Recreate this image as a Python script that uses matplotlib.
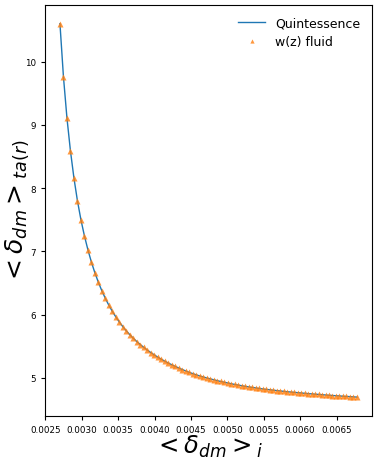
import numpy as np
import matplotlib
matplotlib.use("Agg")
import matplotlib.pyplot as plt


# -----------------------------
# DATA
# -----------------------------
delta_i = [
    0.002700, 0.002748, 0.002796, 0.002844, 0.002892, 0.002940, 0.002988, 0.003036,
    0.003084, 0.003132, 0.003180, 0.003228, 0.003276, 0.003324, 0.003372, 0.003420,
    0.003468, 0.003516, 0.003564, 0.003612, 0.003660, 0.003708, 0.003756, 0.003804,
    0.003852, 0.003900, 0.003948, 0.003996, 0.004044, 0.004092, 0.004140, 0.004188,
    0.004236, 0.004284, 0.004332, 0.004380, 0.004428, 0.004476, 0.004524, 0.004572,
    0.004620, 0.004668, 0.004716, 0.004764, 0.004812, 0.004860, 0.004908, 0.004956,
    0.005004, 0.005052, 0.005100, 0.005148, 0.005196, 0.005244, 0.005292, 0.005340,
    0.005388, 0.005436, 0.005484, 0.005532, 0.005580, 0.005628, 0.005676, 0.005724,
    0.005772, 0.005820, 0.005868, 0.005916, 0.005964, 0.006012, 0.006060, 0.006108,
    0.006156, 0.006204, 0.006252, 0.006300, 0.006348, 0.006396, 0.006444, 0.006492,
    0.006540, 0.006588, 0.006636, 0.006684, 0.006732, 0.006780,
]

delta_ta_quint = [
    10.600, 9.760, 9.110, 8.590, 8.160, 7.800, 7.500, 7.245,
    7.025, 6.830, 6.660, 6.510, 6.375, 6.255, 6.147, 6.050,
    5.962, 5.882, 5.809, 5.742, 5.681, 5.625, 5.573, 5.525,
    5.481, 5.439, 5.399, 5.362, 5.327, 5.294, 5.263, 5.234,
    5.206, 5.180, 5.155, 5.131, 5.108, 5.086, 5.066, 5.047,
    5.029, 5.013, 4.997, 4.983, 4.969, 4.955, 4.942, 4.930,
    4.918, 4.906, 4.895, 4.885, 4.875, 4.865, 4.856, 4.848,
    4.840, 4.832, 4.824, 4.817, 4.811, 4.804, 4.798, 4.792,
    4.786, 4.780, 4.775, 4.770, 4.765, 4.760, 4.755, 4.750,
    4.746, 4.741, 4.737, 4.733, 4.728, 4.724, 4.720, 4.716,
    4.713, 4.709, 4.705, 4.702, 4.698, 4.695,
]

# fluid model lies on top of the quintessence curve
delta_ta_fluid = list(delta_ta_quint)

xticks = [0.0025, 0.0030, 0.0035, 0.0040, 0.0045, 0.0050, 0.0055, 0.0060, 0.0065]
xtick_labels = ["0.0025", "0.0030", "0.0035", "0.0040", "0.0045",
                "0.0050", "0.0055", "0.0060", "0.0065"]
yticks = [5, 6, 7, 8, 9, 10]


# -----------------------------
# FIGURE
# -----------------------------
fig = plt.figure(figsize=(3.79, 4.60), dpi=100)
ax = fig.add_axes([0.119, 0.094, 0.862, 0.893])

ax.plot(delta_i, delta_ta_quint, color="C0", lw=1.0, label="Quintessence")
ax.plot(delta_i, delta_ta_fluid, "^", color="C1", ms=3.8, alpha=0.8,
        mec="none", label="w(z) fluid")

ax.set_xticks(xticks)
ax.set_xticklabels(xtick_labels)
ax.set_yticks(yticks)
ax.tick_params(labelsize=6.3, length=3, width=0.8)

ax.set_xlabel(r"$<\delta_{dm}>_i$", fontsize=17.5)
ax.set_ylabel(r"$<\delta_{dm}>_{ta(r)}$", fontsize=18)
ax.xaxis.set_label_coords(0.5, -0.042)
ax.yaxis.set_label_coords(-0.042, 0.5)

ax.legend(loc="upper right", frameon=False, fontsize=9, handlelength=2.2,
          markerscale=0.8)

fig.savefig("out.png", dpi=100)
plt.close(fig)
